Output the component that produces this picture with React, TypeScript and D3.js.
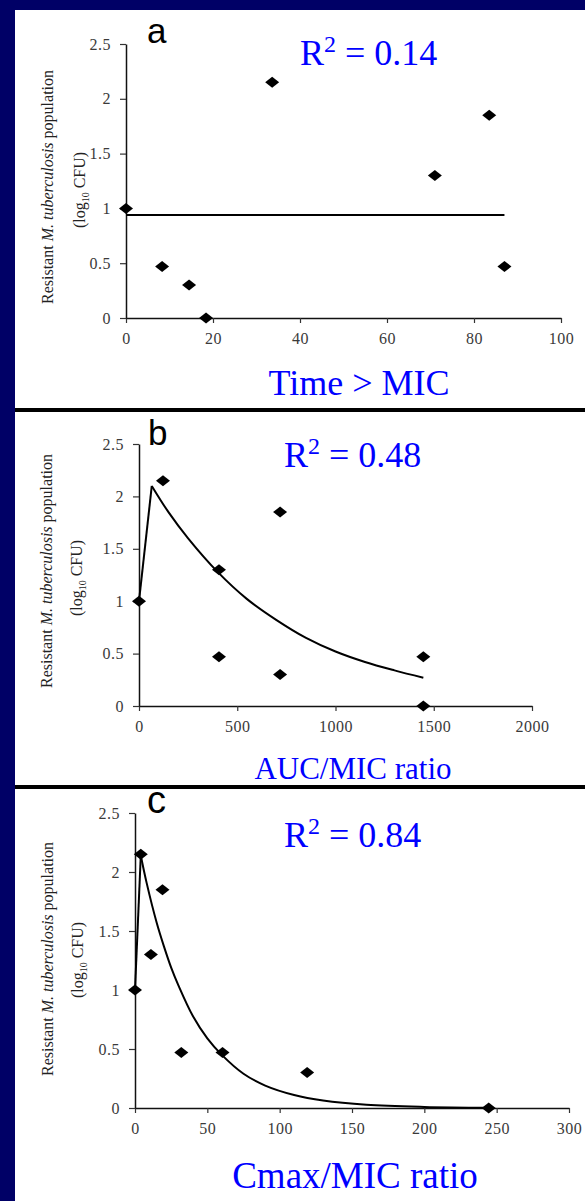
import React, { useEffect, useRef } from 'react';
import * as d3 from 'd3';

// Panel a: Time > MIC
const timeX = [0, 8.3, 14.5, 18.4, 33.6, 71, 83.5, 87];
const timeY = [1.0, 0.47, 0.3, 0.0, 2.15, 1.3, 1.85, 0.47];
const timeFitX = [0, 87];
const timeFitY = [0.94, 0.94];
const timeTicks = [0, 20, 40, 60, 80, 100];

// Panel b: AUC/MIC ratio
const aucX = [0, 122, 407, 407, 718, 718, 1447, 1447];
const aucY = [1.0, 2.15, 1.3, 0.47, 1.85, 0.3, 0.47, 0.0];
const aucFitX = [0, 65, 150, 250, 400, 550, 700, 850, 1000, 1150, 1300, 1447];
const aucFitY = [1.0, 2.1, 1.85, 1.6, 1.28, 1.02, 0.82, 0.65, 0.52, 0.42, 0.34, 0.27];
const aucTicks = [0, 500, 1000, 1500, 2000];

// Panel c: Cmax/MIC ratio
const cmaxX = [0, 4, 11, 19, 32, 60.5, 119, 244.5];
const cmaxY = [1.0, 2.15, 1.3, 1.85, 0.47, 0.47, 0.3, 0.0];
const cmaxFitX = [0, 4, 8, 15, 20, 25, 30, 40, 50, 60, 75, 90, 110, 130, 160, 200, 245];
const cmaxFitY = [1.0, 2.14, 1.91, 1.57, 1.37, 1.19, 1.04, 0.78, 0.59, 0.45, 0.29, 0.19, 0.11, 0.063, 0.027, 0.009, 0.002];
const cmaxTicks = [0, 50, 100, 150, 200, 250, 300];

const yTicks = [0, 0.5, 1, 1.5, 2, 2.5];
const r2Labels = ['0.14', '0.48', '0.84'];
const panelLetters = ['a', 'b', 'c'];
const xTitles = ['Time > MIC', 'AUC/MIC ratio', 'Cmax/MIC ratio'];

const SERIF = "'Liberation Serif', 'Times New Roman', serif";
const SANS = "'Liberation Sans', Arial, sans-serif";
const NAVY = '#000066';
const BLUE = '#0000ff';

const panels = [
  {
    xs: timeX, ys: timeY, fx: timeFitX, fy: timeFitY, ticks: timeTicks,
    xRange: [126, 561], yRange: [318, 44],
    letter: [147, 43], r2: [300, 65], title: [359, 395], titleSize: 36,
    yl1: [53, 187], yl2: [85, 190],
  },
  {
    xs: aucX, ys: aucY, fx: aucFitX, fy: aucFitY, ticks: aucTicks,
    xRange: [139, 532], yRange: [706, 444],
    letter: [148, 445], r2: [284, 467], title: [353, 779], titleSize: 31,
    yl1: [52, 571], yl2: [82, 578],
  },
  {
    xs: cmaxX, ys: cmaxY, fx: cmaxFitX, fy: cmaxFitY, ticks: cmaxTicks,
    xRange: [135, 569], yRange: [1108, 813],
    letter: [147, 813], r2: [284, 847], title: [355, 1188], titleSize: 37,
    yl1: [53, 959], yl2: [83, 960],
  },
];

function App() {
  const ref = useRef<SVGSVGElement>(null);

  useEffect(() => {
    const svg = d3.select(ref.current);
    svg.selectAll('*').remove();

    // Background and white page
    svg.append('rect').attr('width', 585).attr('height', 1201).attr('fill', NAVY);
    svg.append('rect').attr('x', 15).attr('y', 10).attr('width', 570).attr('height', 1191).attr('fill', '#ffffff');
    // Separators
    [408, 785].forEach(y => {
      svg.append('rect').attr('x', 15).attr('y', y).attr('width', 570).attr('height', 4).attr('fill', '#000');
    });

    const diamond = 'M0,-5.5L7,0L0,5.5L-7,0Z';

    panels.forEach((p, i) => {
      const xMax = p.ticks[p.ticks.length - 1];
      const xScale = d3.scaleLinear().domain([0, xMax]).range(p.xRange);
      const yScale = d3.scaleLinear().domain([0, 2.5]).range(p.yRange);
      const g = svg.append('g').attr('class', `panel-${i}`);

      // Axes
      const xAxis = d3.axisBottom(xScale).tickValues(p.ticks).tickSizeInner(5).tickSizeOuter(0)
        .tickFormat(d => String(d)).tickPadding(10);
      const xg = g.append('g').attr('transform', `translate(0,${p.yRange[0]})`).call(xAxis);
      const yAxis = d3.axisLeft(yScale).tickValues(yTicks).tickSizeInner(6).tickSizeOuter(0)
        .tickFormat(d => String(d)).tickPadding(9);
      const yg = g.append('g').attr('transform', `translate(${p.xRange[0]},0)`).call(yAxis);

      [xg, yg].forEach(a => {
        a.attr('font-family', SERIF).attr('font-size', 16);
        a.select('.domain').attr('stroke', '#111').attr('stroke-width', 1.5);
        a.selectAll('.tick line').attr('stroke', '#333').attr('stroke-width', 1.2);
        a.selectAll('.tick text')
          .attr('fill', '#3a3a3a')
          .attr('letter-spacing', 0.5);
      });

      // Fit curve: straight rise to the peak, smooth decay after it
      const fit = p.fx.map((x, k) => [x, p.fy[k]] as [number, number]);
      const line = d3.line<[number, number]>()
        .x(d => xScale(d[0]))
        .y(d => yScale(d[1]));
      const rise = fit.slice(0, 2);
      const decay = fit.slice(1);
      g.append('path').attr('d', line(rise)).attr('fill', 'none').attr('stroke', '#000').attr('stroke-width', 2);
      if (decay.length > 1) {
        g.append('path').attr('d', line.curve(d3.curveCatmullRom)(decay))
          .attr('fill', 'none').attr('stroke', '#000').attr('stroke-width', 2);
      }

      // Points
      g.selectAll('.pt')
        .data(p.xs.map((x, k) => [x, p.ys[k]]))
        .enter()
        .append('path')
        .attr('class', 'pt')
        .attr('d', diamond)
        .attr('transform', d => `translate(${xScale(d[0])},${yScale(d[1])})`)
        .attr('fill', '#000');

      // Panel letter
      g.append('text')
        .attr('x', p.letter[0]).attr('y', p.letter[1])
        .attr('font-family', SANS).attr('font-size', i === 2 ? 38 : 35)
        .attr('fill', '#000')
        .text(panelLetters[i]);

      // R squared
      const r2 = g.append('text')
        .attr('x', p.r2[0]).attr('y', p.r2[1])
        .attr('font-family', SERIF).attr('font-size', 36)
        .attr('fill', BLUE);
      r2.append('tspan').text('R');
      r2.append('tspan').attr('dy', -13).attr('font-size', 24).text('2');
      r2.append('tspan').attr('dy', 13).text(` = ${r2Labels[i]}`);

      // X title
      g.append('text')
        .attr('x', p.title[0]).attr('y', p.title[1])
        .attr('text-anchor', 'middle')
        .attr('font-family', SERIF).attr('font-size', p.titleSize)
        .attr('fill', BLUE)
        .text(xTitles[i]);

      // Y title, two lines
      const yl1 = g.append('text')
        .attr('transform', `translate(${p.yl1[0]},${p.yl1[1]}) rotate(-90)`)
        .attr('text-anchor', 'middle')
        .attr('font-family', SERIF).attr('font-size', 16)
        .attr('fill', '#222');
      yl1.append('tspan').text('Resistant ');
      yl1.append('tspan').attr('font-style', 'italic').text('M. tuberculosis');
      yl1.append('tspan').text(' population');

      const yl2 = g.append('text')
        .attr('transform', `translate(${p.yl2[0]},${p.yl2[1]}) rotate(-90)`)
        .attr('text-anchor', 'middle')
        .attr('font-family', SERIF).attr('font-size', 16)
        .attr('fill', '#222');
      yl2.append('tspan').text('(log');
      yl2.append('tspan').attr('dy', 4).attr('font-size', 10).text('10');
      yl2.append('tspan').attr('dy', -4).text(' CFU)');
    });
  }, []);

  return (
    <div style={{ position: 'absolute', left: 0, top: 0 }}>
      <svg ref={ref} width={585} height={1201} style={{ display: 'block' }} />
    </div>
  );
}

export default App;
